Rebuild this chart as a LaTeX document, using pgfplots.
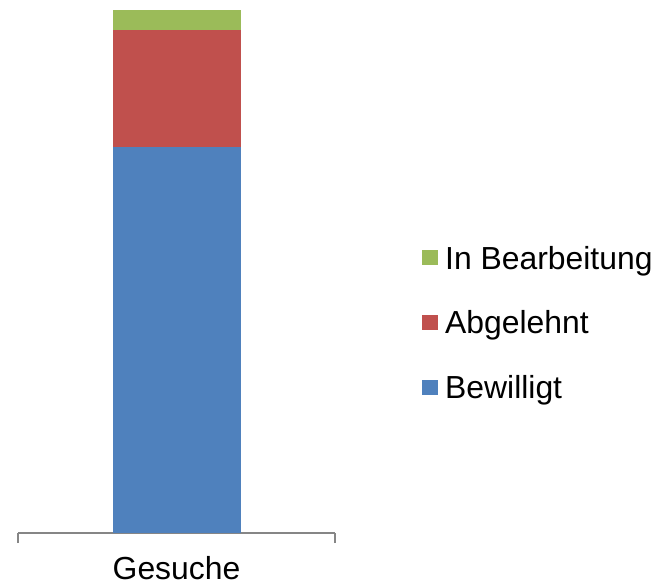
\documentclass[border=0pt]{standalone}
\usepackage{fontspec}
\setmainfont{Liberation Sans}
\usepackage{pgfplots}
\pgfplotsset{compat=1.18}
\definecolor{cblue}{HTML}{4F81BD}
\definecolor{cred}{HTML}{C0504D}
\definecolor{cgreen}{HTML}{9BBB59}
\definecolor{caxis}{HTML}{868686}
\begin{document}
\begin{tikzpicture}
\useasboundingbox (0,0) rectangle (656bp,583bp);
\begin{axis}[
 at={(18bp,50bp)}, anchor=south west,
 scale only axis, width=317bp, height=523bp,
 xmin=0, xmax=2, ymin=0, ymax=523,
 ybar stacked, bar width=128bp,
 axis y line=none, axis x line*=bottom,
 x axis line style={caxis, line width=1.5bp, -},
 xtick={1}, xticklabels={Gesuche}, major tick length=0pt,
 x tick label style={anchor=base, yshift=-46bp},
 extra x ticks={0,2}, extra x tick labels={},
 extra x tick style={major tick length=10bp, tick align=outside, tick style={caxis, line width=1.5bp}},
 font=\fontsize{32}{38}\selectfont,
 legend style={draw=none, fill=none, at={(1.2744,0.549)}, anchor=north west, inner sep=0pt, row sep=40bp, font=\fontsize{32}{38}\selectfont, column sep=7bp, nodes={inner sep=0pt}},
 legend cell align=left,
 reverse legend,
 legend image code/.code={\fill[#1] (0bp,-7bp) rectangle (16bp,8bp);},
]
\addplot[fill=cblue, draw=none] coordinates {(1,386)};
\addplot[fill=cred, draw=none] coordinates {(1,117)};
\addplot[fill=cgreen, draw=none] coordinates {(1,20)};
\legend{Bewilligt, Abgelehnt, In Bearbeitung}
\end{axis}
\end{tikzpicture}
\end{document}
